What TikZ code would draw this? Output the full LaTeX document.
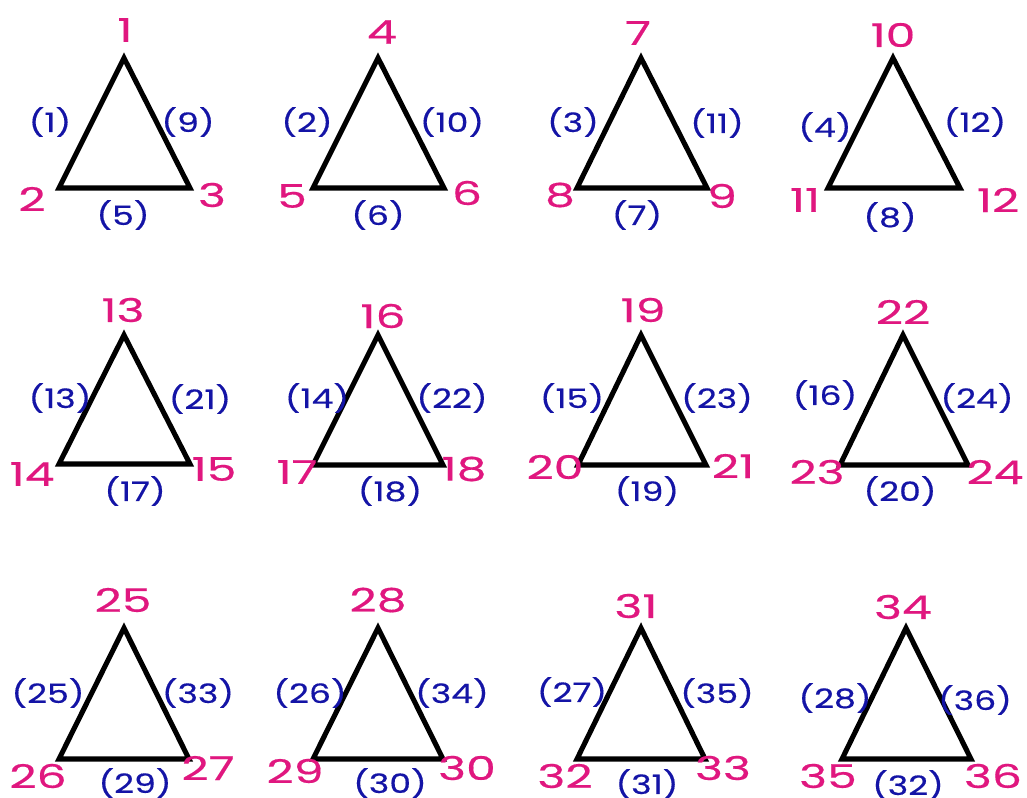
\documentclass[tikz,border=0pt]{standalone}
\usepackage{fontspec}
\setmainfont{Poppins}
\newfontfamily\vfont[FakeStretch=1.45,FakeBold=0.4]{Poppins}
\newfontfamily\efont[FakeStretch=1.3,FakeBold=0.4]{Poppins}
\definecolor{vmag}{HTML}{E0177F}
\definecolor{eblue}{HTML}{1414A6}
\begin{document}
\begin{tikzpicture}[x=0.75pt,y=-0.75pt,
  tri/.style={draw=black,line width=3.8pt,line join=miter},
  vlab/.style={text=vmag,font=\vfont\fontsize{24.5}{24.5}\selectfont,inner sep=0pt},
  elab/.style={text=eblue,font=\efont\fontsize{20}{20}\selectfont,inner sep=0pt}]
\useasboundingbox[fill=white] (0,0) rectangle (1027,798);
% ---------- row 1 ----------
% T1
\coordinate (a1) at (124,58); \coordinate (b1) at (59,188); \coordinate (c1) at (190,188);
\draw[tri] (a1) -- (b1) -- (c1) -- cycle;
\node[vlab] (v1) at (125,30) {1};
\node[vlab] (v2) at (32,199) {2};
\node[vlab] (v3) at (212,195) {3};
\node[elab] (e1) at (50,122) {(1)};
\node[elab] (e9) at (188,122) {(9)};
\node[elab] (e5) at (123,215) {(5)};
% T2
\coordinate (a2) at (378,58); \coordinate (b2) at (313,188); \coordinate (c2) at (444,188);
\draw[tri] (a2) -- (b2) -- (c2) -- cycle;
\node[vlab] (v4) at (382,32) {4};
\node[vlab] (v5) at (292,196) {5};
\node[vlab] (v6) at (467,193) {6};
\node[elab] (e2) at (307,122) {(2)};
\node[elab] (e10) at (452,122) {(10)};
\node[elab] (e6) at (378,215) {(6)};
% T3
\coordinate (a3) at (641,58); \coordinate (b3) at (577,188); \coordinate (c3) at (707,188);
\draw[tri] (a3) -- (b3) -- (c3) -- cycle;
\node[vlab] (v7) at (638,33) {7};
\node[vlab] (v8) at (560,195) {8};
\node[vlab] (v9) at (722,196) {9};
\node[elab] (e3) at (573,122) {(3)};
\node[elab] (e11) at (717,123) {(11)};
\node[elab] (e7) at (637,215) {(7)};
% T4
\coordinate (a4) at (893,58); \coordinate (b4) at (828,188); \coordinate (c4) at (960,188);
\draw[tri] (a4) -- (b4) -- (c4) -- cycle;
\node[vlab] (v10) at (893,35) {10};
\node[vlab] (v11) at (805,200) {11};
\node[vlab] (v12) at (998,200) {12};
\node[elab] (e4) at (825,127) {(4)};
\node[elab] (e12) at (975,122) {(12)};
\node[elab] (e8) at (890,217) {(8)};
% ---------- row 2 ----------
% T5
\coordinate (a5) at (124,335); \coordinate (b5) at (59,464); \coordinate (c5) at (190,464);
\draw[tri] (a5) -- (b5) -- (c5) -- cycle;
\node[vlab] (v13) at (123,310) {13};
\node[vlab] (v14) at (32,474) {14};
\node[vlab] (v15) at (214,469) {15};
\node[elab] (e13) at (60,398) {(13)};
\node[elab] (e21) at (200,399) {(21)};
\node[elab] (e17) at (135,491) {(17)};
% T6
\coordinate (a6) at (378,335); \coordinate (b6) at (313,465); \coordinate (c6) at (443,465);
\draw[tri] (a6) -- (b6) -- (c6) -- cycle;
\node[vlab] (v16) at (383,316) {16};
\node[vlab] (v17) at (297,472) {17};
\node[vlab] (v18) at (464,469) {18};
\node[elab] (e14) at (317,398) {(14)};
\node[elab] (e22) at (452,398) {(22)};
\node[elab] (e18) at (390,491) {(18)};
% T7
\coordinate (a7) at (641,335); \coordinate (b7) at (578,465); \coordinate (c7) at (706,465);
\draw[tri] (a7) -- (b7) -- (c7) -- cycle;
\node[vlab] (v19) at (643,310) {19};
\node[vlab] (v20) at (555,467) {20};
\node[vlab] (v21) at (733,466) {21};
\node[elab] (e15) at (572,398) {(15)};
\node[elab] (e23) at (717,398) {(23)};
\node[elab] (e19) at (647,491) {(19)};
% T8
\coordinate (a8) at (903,335); \coordinate (b8) at (840,465); \coordinate (c8) at (968,465);
\draw[tri] (a8) -- (b8) -- (c8) -- cycle;
\node[vlab] (v22) at (903,312) {22};
\node[vlab] (v23) at (817,472) {23};
\node[vlab] (v24) at (995,472) {24};
\node[elab] (e16) at (825,395) {(16)};
\node[elab] (e24) at (977,398) {(24)};
\node[elab] (e20) at (900,491) {(20)};
% ---------- row 3 ----------
% T9
\coordinate (a9) at (124,628); \coordinate (b9) at (59,759); \coordinate (c9) at (189,759);
\draw[tri] (a9) -- (b9) -- (c9) -- cycle;
\node[vlab] (v25) at (123,600) {25};
\node[vlab] (v26) at (38,776) {26};
\node[vlab] (v27) at (208,768) {27};
\node[elab] (e25) at (48,693) {(25)};
\node[elab] (e33) at (198,693) {(33)};
\node[elab] (e29) at (135,783) {(29)};
% T10
\coordinate (a10) at (378,628); \coordinate (b10) at (313,759); \coordinate (c10) at (443,759);
\draw[tri] (a10) -- (b10) -- (c10) -- cycle;
\node[vlab] (v28) at (378,600) {28};
\node[vlab] (v29) at (295,771) {29};
\node[vlab] (v30) at (467,768) {30};
\node[elab] (e26) at (310,693) {(26)};
\node[elab] (e34) at (452,693) {(34)};
\node[elab] (e30) at (390,783) {(30)};
% T11
\coordinate (a11) at (641,628); \coordinate (b11) at (577,759); \coordinate (c11) at (705,759);
\draw[tri] (a11) -- (b11) -- (c11) -- cycle;
\node[vlab] (v31) at (636,606) {31};
\node[vlab] (v32) at (565,776) {32};
\node[vlab] (v33) at (723,768) {33};
\node[elab] (e27) at (572,692) {(27)};
\node[elab] (e35) at (717,693) {(35)};
\node[elab] (e31) at (647,784) {(31)};
% T12
\coordinate (a12) at (906,628); \coordinate (b12) at (842,759); \coordinate (c12) at (971,759);
\draw[tri] (a12) -- (b12) -- (c12) -- cycle;
\node[vlab] (v34) at (903,607) {34};
\node[vlab] (v35) at (828,776) {35};
\node[vlab] (v36) at (993,776) {36};
\node[elab] (e28) at (835,698) {(28)};
\node[elab] (e36) at (975,700) {(36)};
\node[elab] (e32) at (908,785) {(32)};
\end{tikzpicture}
\end{document}
